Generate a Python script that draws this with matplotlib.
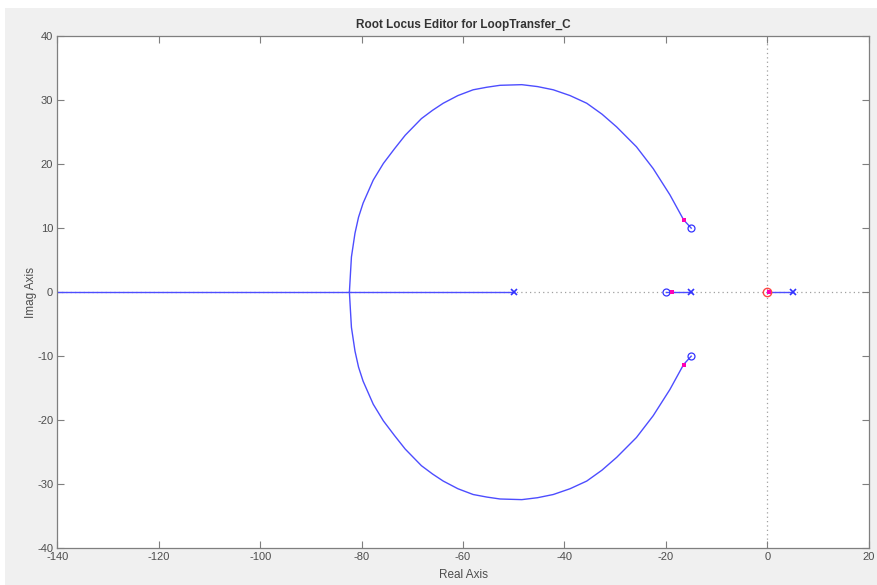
import numpy as np
import matplotlib.pyplot as plt
from matplotlib.patches import Rectangle

# open-loop poles / zeros
pole_re = [-50, -15, 5]
zero_re = [-20]
zero_cplx_re = [-15, -15]
zero_cplx_im = [10, -10]
comp_zero_re = [0]

# closed-loop poles at current gain
cl_re = [-16.5, -16.5, -18.7, 0.4]
cl_im = [11.3, -11.3, 0, 0]

# upper complex branch (lower one is its mirror)
branch_re = [-82.4, -82.2, -82.0, -81.3, -80.6, -79.7, -77.7, -75.7, -73.5,
             -71.4, -68.2, -66.0, -63.9, -61.0, -58.0, -55.3, -52.7, -48.4,
             -45.3, -42.2, -38.9, -35.6, -32.6, -29.7, -25.8, -22.5, -19.2,
             -16.5, -15.0]
branch_im = [0.0, 2.8, 5.5, 9.2, 11.7, 13.9, 17.5, 20.1, 22.4,
             24.5, 27.1, 28.4, 29.5, 30.7, 31.6, 32.0, 32.3, 32.4,
             32.1, 31.6, 30.7, 29.5, 27.8, 25.8, 22.7, 19.3, 15.2,
             11.3, 10.0]

# real-axis locus segments
segments = [(-140, -50), (-20, -15), (0, 5)]

xticks = [-140, -120, -100, -80, -60, -40, -20, 0, 20]
yticks = [-40, -30, -20, -10, 0, 10, 20, 30, 40]

plt.rcParams['font.family'] = ['Liberation Sans', 'DejaVu Sans']
plt.rcParams['axes.unicode_minus'] = False

locus_color = '#4d4dff'
txt_color = '#4d4d4d'

fig = plt.figure(figsize=(8.77, 5.85), dpi=100, facecolor='#f0f0f0')
fig.patches.append(Rectangle((0, 0.986), 1, 0.014, transform=fig.transFigure,
                             facecolor='white', edgecolor='none', zorder=0))
fig.patches.append(Rectangle((0, 0), 0.006, 1, transform=fig.transFigure,
                             facecolor='white', edgecolor='none', zorder=0))

ax = fig.add_axes([57.3 / 877, 1 - 548.3 / 585, (868.7 - 57.3) / 877, (548.3 - 36) / 585])
ax.set_facecolor('white')

ax.axhline(0, color='#a0a0a0', lw=0.9, ls=(0, (1, 2.5)), zorder=1)
ax.axvline(0, color='#a0a0a0', lw=0.9, ls=(0, (1, 2.5)), zorder=1)

for a, b in segments:
    ax.plot([a, b], [0, 0], color=locus_color, lw=1.0, zorder=2)

bre = np.array(branch_re)
bim = np.array(branch_im)
ax.plot(bre, bim, color=locus_color, lw=1.0, zorder=2)
ax.plot(bre, -bim, color=locus_color, lw=1.0, zorder=2)

ax.plot(pole_re, [0] * len(pole_re), 'x', color='#3333ff', ms=4, mew=1.2, zorder=3)
ax.plot(zero_re, [0] * len(zero_re), 'o', mfc='none', mec='#3333ff', ms=5, mew=0.9, zorder=3)
ax.plot(zero_cplx_re, zero_cplx_im, 'o', mfc='none', mec='#3333ff', ms=5, mew=0.9, zorder=3)
ax.plot(comp_zero_re, [0] * len(comp_zero_re), 'o', mfc='none', mec='#ff4444', ms=6, mew=1.0, zorder=3)
ax.plot(cl_re, cl_im, 's', color='#ff00b4', ms=3.2, mew=0, zorder=4)

ax.set_xlim(-140, 20)
ax.set_ylim(-40, 40)
ax.set_xticks(xticks)
ax.set_yticks(yticks)
ax.tick_params(direction='in', top=True, right=True, length=5, width=0.8,
               colors='#7f7f7f', labelcolor=txt_color, labelsize=8, pad=3)
for s in ax.spines.values():
    s.set_color('#7f7f7f')
    s.set_linewidth(0.9)

ax.set_title('Root Locus Editor for LoopTransfer_C', fontsize=8.5, fontweight='bold',
             color='#333333', pad=6)
ax.set_xlabel('Real Axis', fontsize=8.5, color=txt_color, labelpad=5)
ax.set_ylabel('Imag Axis', fontsize=8.5, color=txt_color, labelpad=0)

fig.savefig('out.png', dpi=100, facecolor=fig.get_facecolor())
